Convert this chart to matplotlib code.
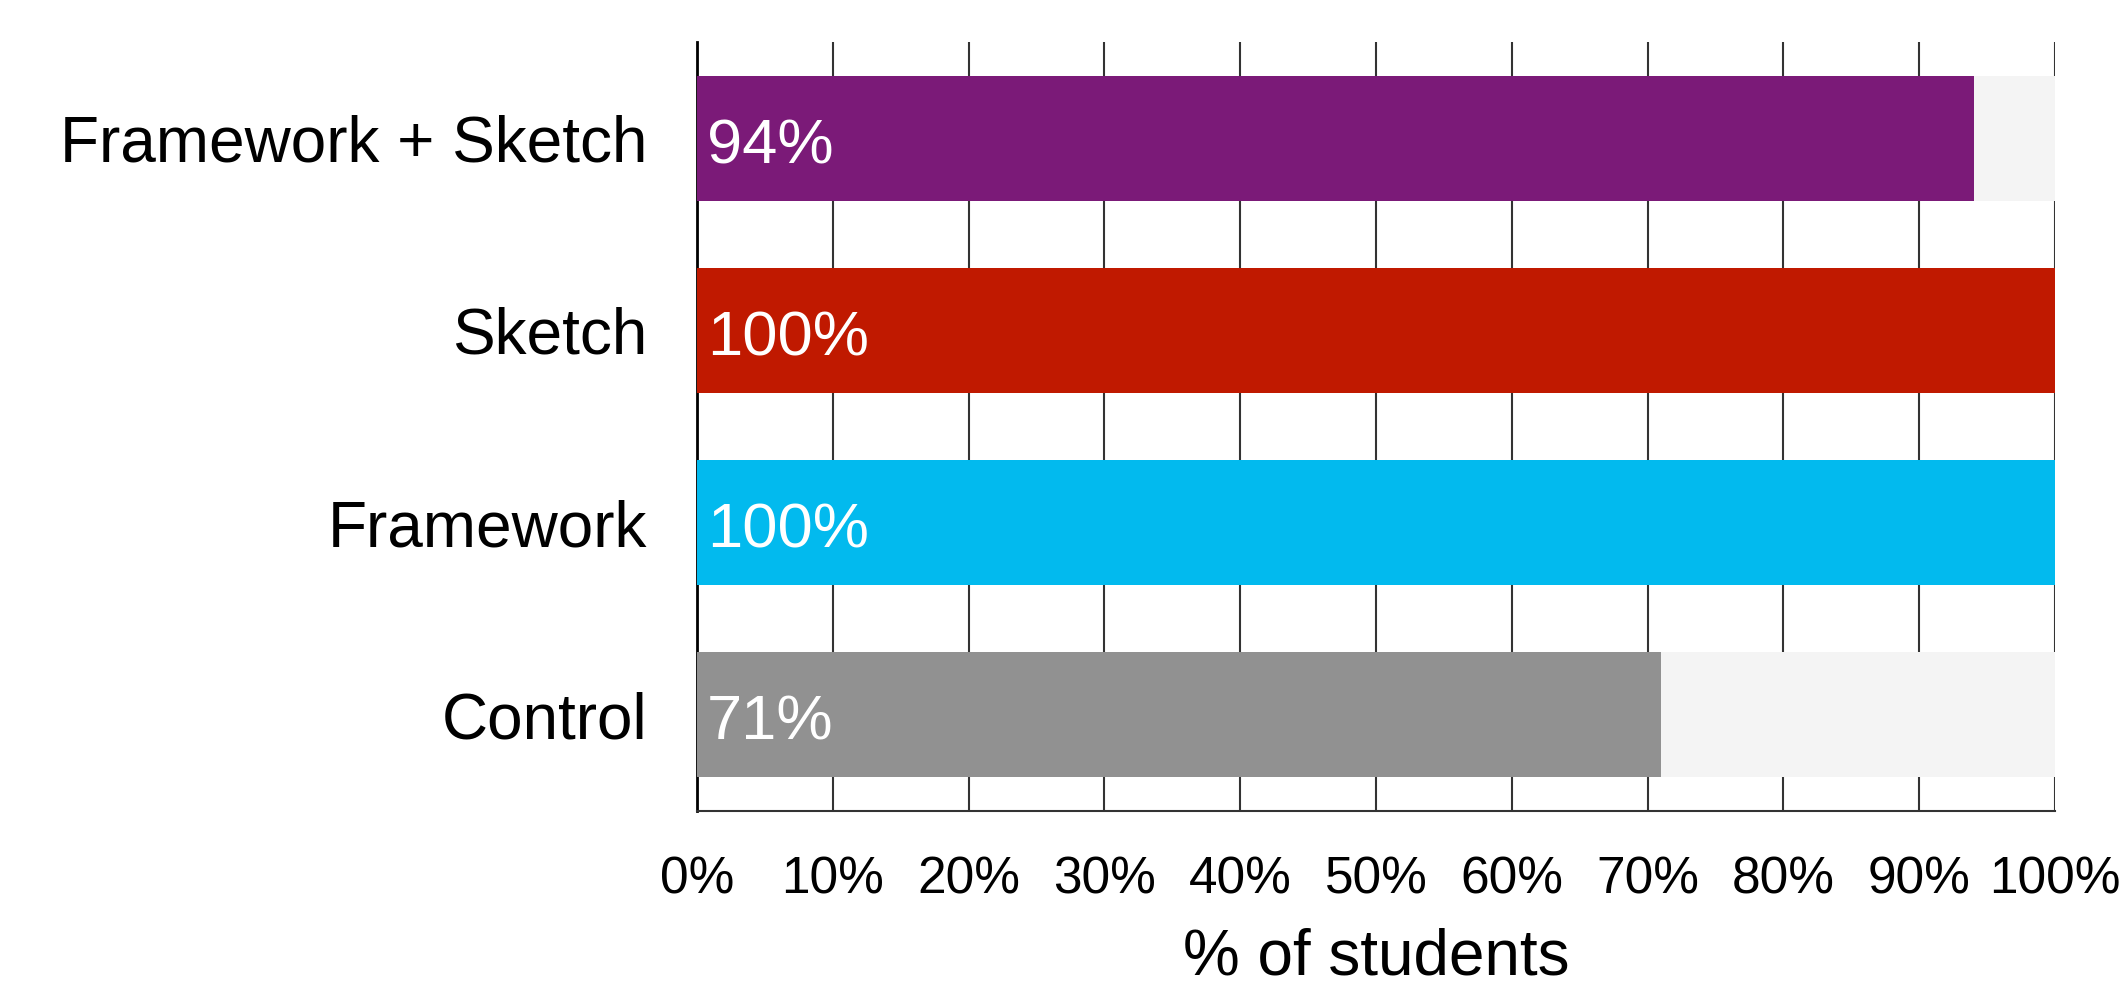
import matplotlib
matplotlib.use('Agg')
import matplotlib.pyplot as plt

plt.rcParams['font.family'] = ['Liberation Sans', 'DejaVu Sans']

# data (top to bottom in the picture)
groups = ['Framework + Sketch', 'Sketch', 'Framework', 'Control']
percents = [94, 100, 100, 71]
colors = ['#7B1A78', '#C01900', '#02BAEE', '#919191']
xticks = [0, 10, 20, 30, 40, 50, 60, 70, 80, 90, 100]

fig = plt.figure(figsize=(21.23, 9.89), dpi=100)
ax = fig.add_axes([0.3283, 0.180, 0.6397, 0.7775])

# draw bottom to top so Control is at y=0
ypos = list(range(len(groups)))[::-1]

ax.barh(ypos, [100] * len(groups), height=0.65, color='#F4F4F4', zorder=2)
ax.barh(ypos, percents, height=0.65, color=colors, zorder=3)

for y, p in zip(ypos, percents):
    ax.text(0.75, y - 0.13, '%d%%' % p, color='white', fontsize=45.5, va='baseline', ha='left', zorder=4)

ax.set_xlim(0, 100)
ax.set_ylim(-0.5, 3.5)
ax.set_xticks(xticks)
ax.set_xticklabels(['%d%%' % t for t in xticks])
ax.set_yticks(ypos)
ax.set_yticklabels(groups)

ax.tick_params(axis='x', length=0, pad=32, labelsize=37)
ax.tick_params(axis='y', length=0, pad=36, labelsize=46)

ax.grid(axis='x', color='#333333', linewidth=1.5, zorder=1)
ax.set_axisbelow(True)

ax.spines['top'].set_visible(False)
ax.spines['right'].set_visible(False)
ax.spines['left'].set_color('black')
ax.spines['left'].set_linewidth(2)
ax.spines['bottom'].set_color('#333333')
ax.spines['bottom'].set_linewidth(1.5)

ax.set_xlabel('% of students', fontsize=46, va='center')
ax.xaxis.set_label_coords(0.5, -0.19)

plt.savefig('out.png', dpi=100)
